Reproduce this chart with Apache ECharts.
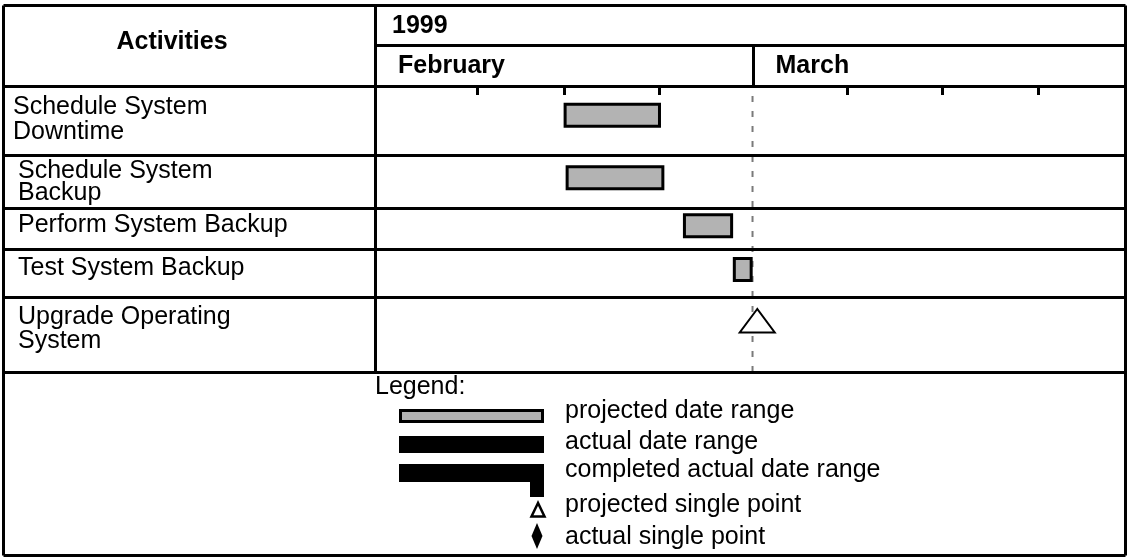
<!DOCTYPE html>
<html>
<head>
<meta charset="utf-8">
<script src="https://cdn.jsdelivr.net/npm/echarts@6/dist/echarts.min.js"></script>
<style>
  html, body { margin: 0; padding: 0; background: #fff; }
  #main { width: 1127px; height: 559px; }
</style>
</head>
<body>
<div id="main"></div>
<script>
// days counted from 1 Feb 1999 (0 = Feb 1, 28 = Mar 1)
const activities = ['Schedule System\nDowntime', 'Schedule System\nBackup', 'Perform System Backup', 'Test System Backup', 'Upgrade Operating\nSystem']
const projectedStart = [14.1, 14.25, 22.95, 26.65]
const projectedEnd = [21.1, 21.35, 26.45, 27.9]
const milestoneRows = [4]
const milestoneDays = [28.35]
const statusDay = 28
const weekTicks = [7.6, 14, 21.1, 35, 42.1, 49.2]
const yearLabel = '1999'
const months = ['February', 'March']
const monthStartDay = [0, 28]
const legendLabels = ['projected date range', 'actual date range', 'completed actual date range', 'projected single point', 'actual single point']

// table layout
const FONT = '"Liberation Sans", Arial, Helvetica, sans-serif'
const gridLeft = 375
const gridTop = 86
const gridWidth = 751
const rowHeights = [69.5, 53, 41, 47.5, 75]
const rowTop = []
let acc = 0
rowHeights.forEach((h) => { rowTop.push(acc); acc += h })
const bodyHeight = acc
// label placement inside each row: x, first line middle (from row top), line gap
const labelX = [13, 18, 18, 18, 18]
const labelMid = [21.6, 15.5, 17.1, 19.1, 20]
const labelGap = [25, 22, 25, 25, 24]

const myChart = echarts.init(document.getElementById('main'))

function renderBar(params, api) {
  const row = api.value(2)
  const yc = rowTop[row] + rowHeights[row] * 0.42
  const p0 = api.coord([api.value(0), yc])
  const p1 = api.coord([api.value(1), yc])
  return {
    type: 'rect',
    shape: { x: p0[0], y: p0[1] - 11, width: p1[0] - p0[0], height: 22 },
    style: { fill: '#b3b3b3', stroke: '#000', lineWidth: 3 },
  }
}

function renderMilestone(params, api) {
  const row = api.value(1)
  const yc = rowTop[row] + rowHeights[row] * 0.32
  const p = api.coord([api.value(0), yc])
  return {
    type: 'polygon',
    shape: { points: [[p[0], p[1] - 12], [p[0] - 17.5, p[1] + 11.5], [p[0] + 17.5, p[1] + 11.5]] },
    style: { fill: '#fff', stroke: '#000', lineWidth: 2 },
  }
}

myChart.setOption({
  animation: false,
  backgroundColor: '#fff',
  grid: { left: gridLeft, top: gridTop, width: gridWidth, height: bodyHeight },
  xAxis: {
    type: 'value',
    position: 'top',
    min: 0,
    max: 55.7,
    interval: 7,
    axisLine: { show: false },
    axisTick: { show: true, inside: true, length: 9, customValues: weekTicks, lineStyle: { color: '#000', width: 3 } },
    axisLabel: { show: false },
    splitLine: { show: false },
  },
  yAxis: {
    type: 'value',
    inverse: true,
    min: 0,
    max: bodyHeight,
    show: false,
    splitLine: { show: false },
  },
  series: [
    {
      type: 'line',
      silent: true,
      z: 1,
      symbol: 'none',
      data: [[statusDay, 0], [statusDay, bodyHeight]],
      lineStyle: { color: '#7a7a7a', width: 2, type: [6, 9], dashOffset: -10 },
    },
    {
      type: 'custom',
      z: 3,
      clip: false,
      renderItem: renderBar,
      encode: { x: [0, 1], y: 2 },
      data: projectedStart.map((s, i) => [s, projectedEnd[i], i]),
    },
    {
      type: 'custom',
      z: 3,
      clip: false,
      renderItem: renderMilestone,
      encode: { x: 0, y: 1 },
      data: milestoneDays.map((d, i) => [d, milestoneRows[i]]),
    },
  ],
})

// table frame, headings and legend
function line(x1, y1, x2, y2) {
  return { type: 'line', silent: true, z: 10, shape: { x1, y1, x2, y2 }, style: { stroke: '#000', lineWidth: 3 } }
}
function text(str, x, y, opts) {
  return {
    type: 'text', silent: true, z: 10, x, y,
    style: Object.assign({ text: str, fill: '#000', fontSize: 25, fontFamily: FONT, align: 'left', verticalAlign: 'middle' }, opts || {}),
  }
}

const L = 3.5, R = 1125.5, T = 5.5, B = 555.5
const colX = gridLeft + 0.5
const g = []
g.push(line(L, T, R, T), line(L, B, R, B), line(L, T, L, B), line(R, T, R, B))
g.push(line(colX, T, colX, Math.floor(gridTop + bodyHeight) + 0.5))
g.push(line(colX, 45.5, R, 45.5))
rowTop.concat([bodyHeight]).forEach((t) => {
  const y = Math.floor(gridTop + t) + 0.5
  g.push(line(L, y, R, y))
})

// month dividers and names from the axis scale
months.forEach((m, i) => {
  const px = myChart.convertToPixel({ xAxisIndex: 0 }, monthStartDay[i])
  if (i > 0) g.push(line(Math.round(px) + 0.5, 45.5, Math.round(px) + 0.5, gridTop + 0.5))
  g.push(text(m, px + 23, 66, { fontWeight: 'bold' }))
})
g.push(text(yearLabel, 392, 26, { fontWeight: 'bold' }))
g.push(text('Activities', 172, 42, { fontWeight: 'bold', align: 'center' }))

// activity names
activities.forEach((a, i) => {
  a.split('\n').forEach((part, k) => {
    g.push(text(part, labelX[i], gridTop + rowTop[i] + labelMid[i] + k * labelGap[i]))
  })
})

// legend
g.push(text('Legend:', 375, 387))
const legendY = [411.5, 442, 470.5, 505, 537.5]
legendLabels.forEach((s, i) => g.push(text(s, 565, legendY[i])))
g.push({ type: 'rect', z: 10, shape: { x: 400.5, y: 410.5, width: 142, height: 11 }, style: { fill: '#b3b3b3', stroke: '#000', lineWidth: 3 } })
g.push({ type: 'rect', z: 10, shape: { x: 399, y: 436, width: 145, height: 17 }, style: { fill: '#000' } })
g.push({ type: 'rect', z: 10, shape: { x: 399, y: 464, width: 145, height: 18 }, style: { fill: '#000' } })
g.push({ type: 'rect', z: 10, shape: { x: 530, y: 464, width: 14, height: 33 }, style: { fill: '#000' } })
g.push({ type: 'polygon', z: 10, shape: { points: [[538, 503], [531.5, 516.5], [544.5, 516.5]] }, style: { fill: '#fff', stroke: '#000', lineWidth: 2.5 } })
g.push({ type: 'polygon', z: 10, shape: { points: [[537, 523], [542.5, 536], [537, 549], [531.5, 536]] }, style: { fill: '#000' } })

myChart.setOption({ graphic: { elements: g } })
</script>
</body>
</html>
